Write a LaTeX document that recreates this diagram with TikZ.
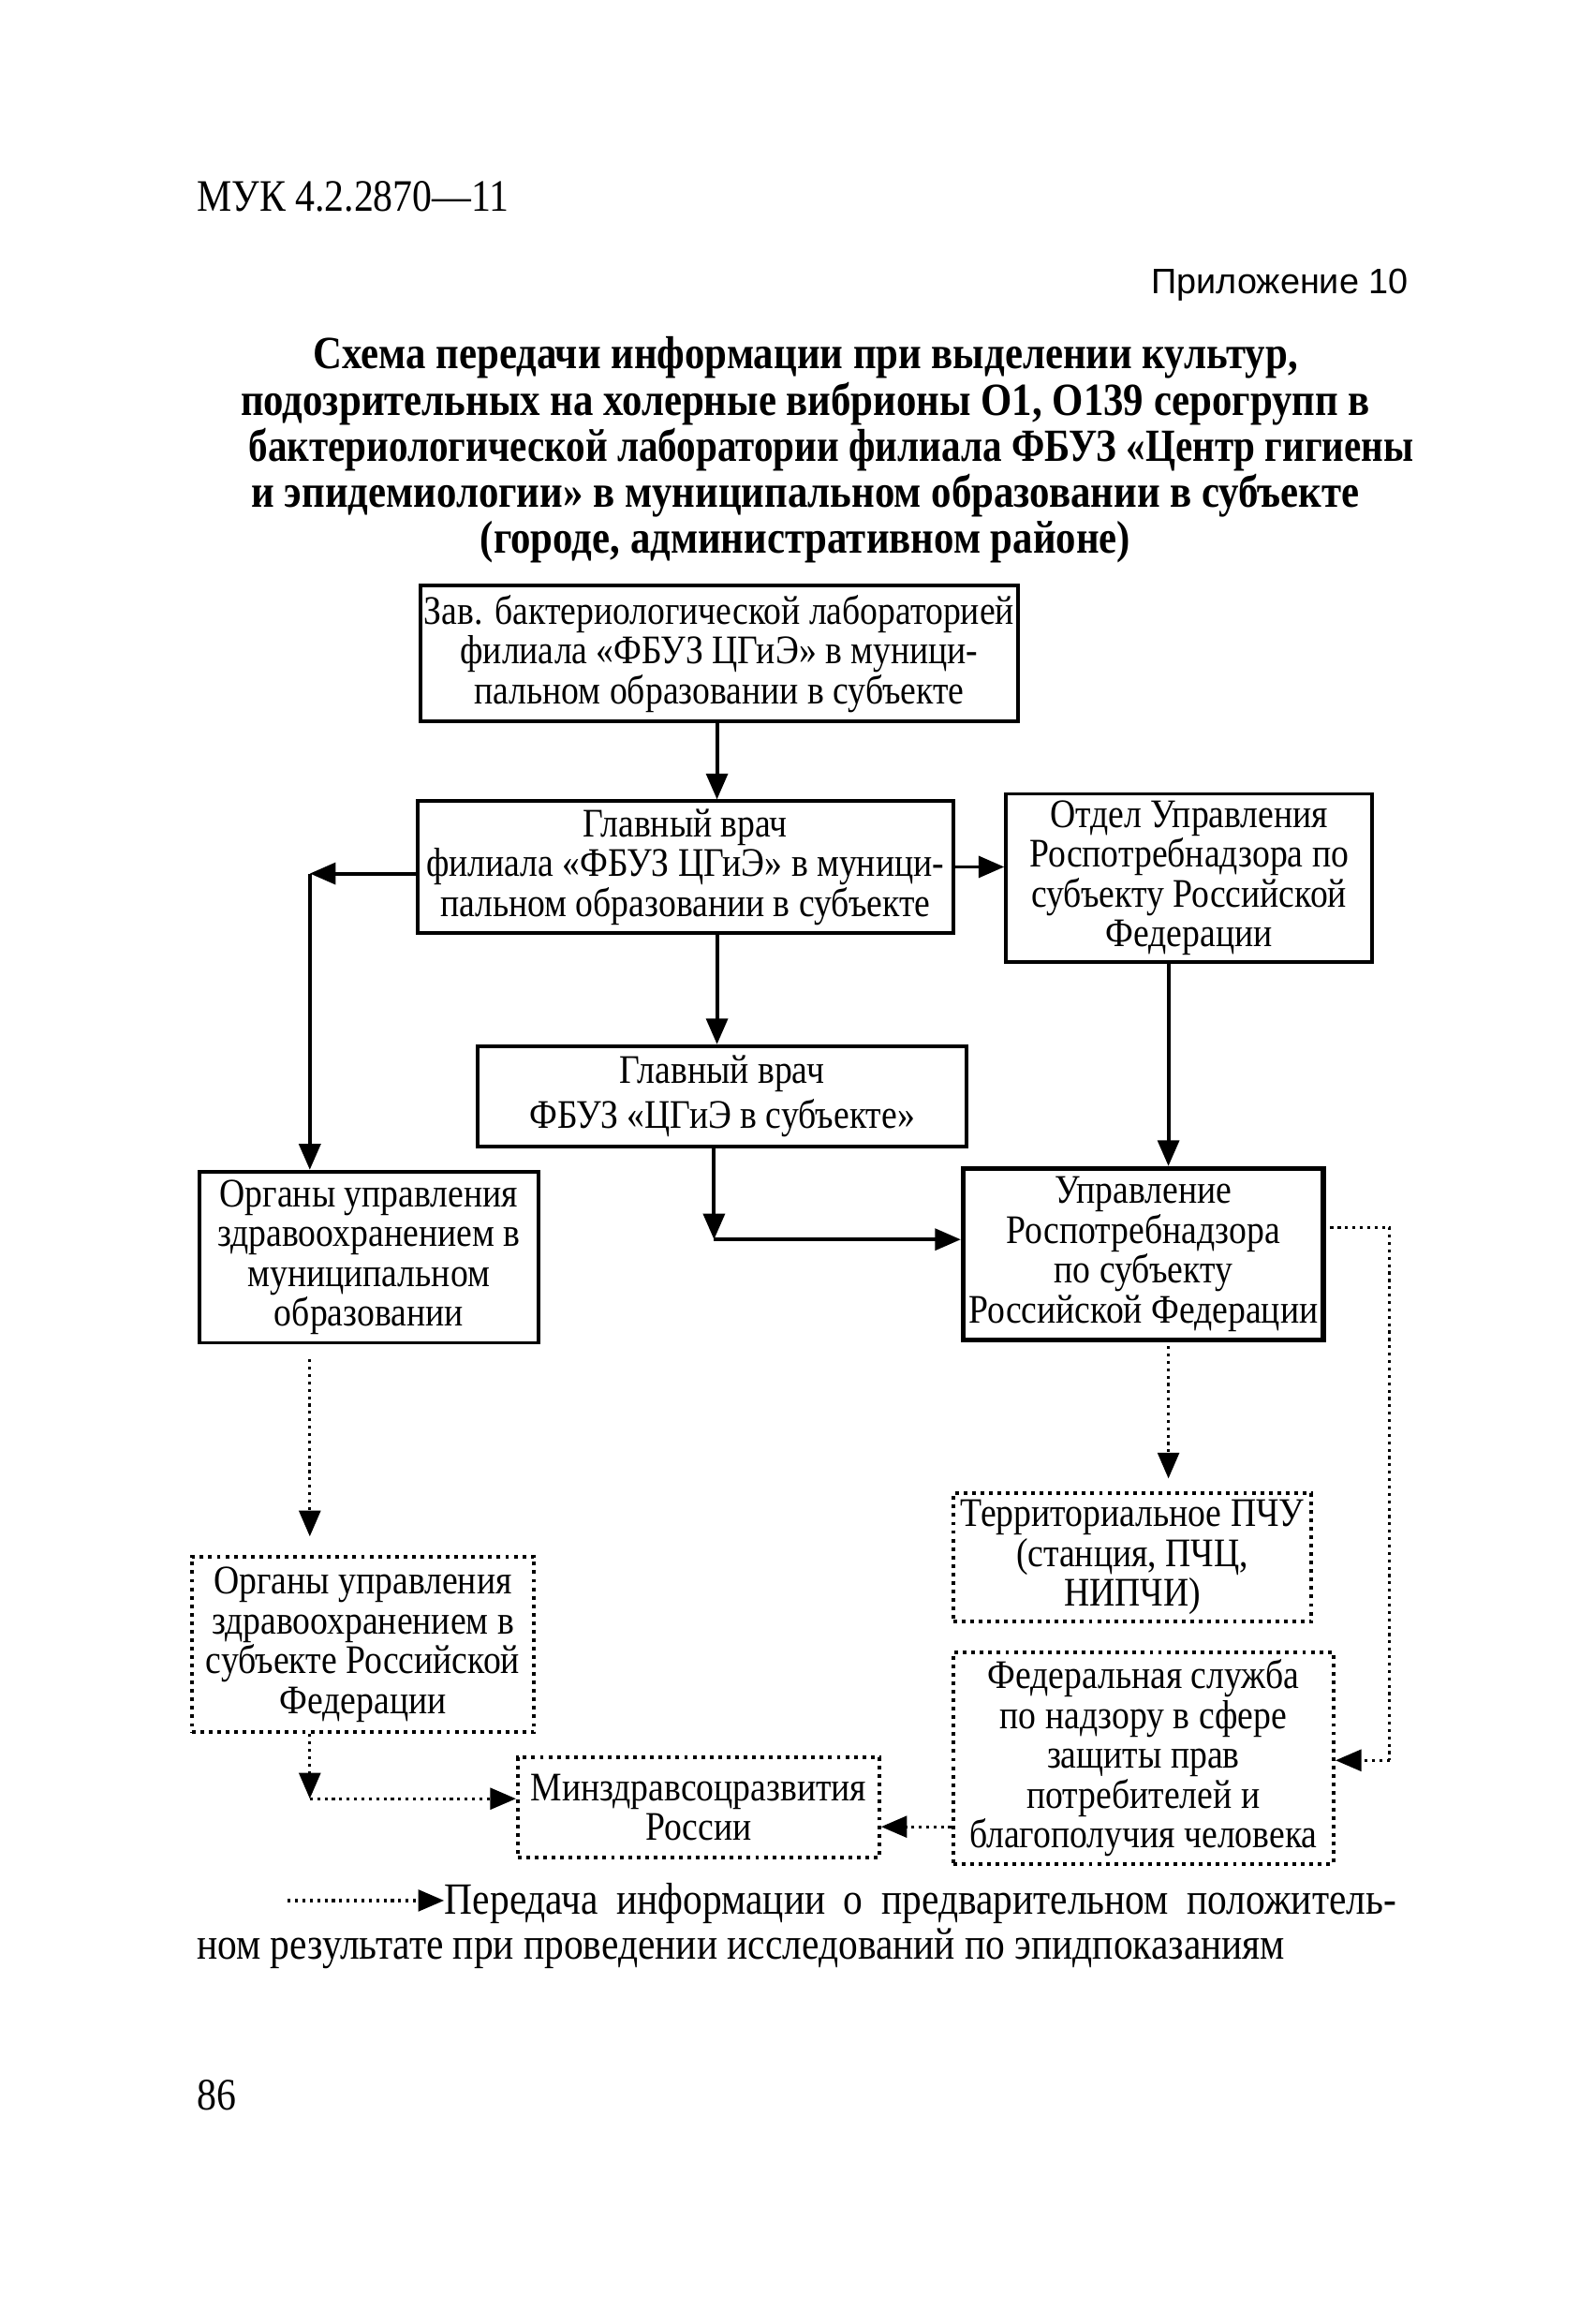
\documentclass[tikz,border=0pt]{standalone}
\usepackage{fontspec}
\setmainfont[FakeStretch=0.87]{Liberation Serif}
\newfontfamily\arialfont{Liberation Sans}
\usetikzlibrary{arrows.meta,calc}
\begin{document}
\begin{tikzpicture}[x=0.4pt,y=-0.4pt,
  box/.style={draw, line width=1pt, inner sep=0pt, align=center,
    font=\fontsize{11}{10.8}\selectfont},
  thickbox/.style={box, line width=1.4pt},
  dbox/.style={box, line width=1pt, dash pattern=on 1pt off 1.3pt},
  arr/.style={-{Triangle[length=7pt,width=5.8pt]}, line width=1pt},
  darr/.style={arr, line width=0.8pt, dash pattern=on 0.8pt off 1.2pt},
  dline/.style={line width=0.8pt, dash pattern=on 0.8pt off 1.2pt},
  txt/.style={inner sep=0pt, font=\fontsize{12.1}{12.8}\selectfont}]
\fill[white] (0,0) rectangle (1080,1575);
\useasboundingbox (0,0) rectangle (1080,1575);

% header
\node[txt, anchor=base west, font=\fontsize{12.2}{13}\selectfont] (muk) at (133,143) {МУК 4.2.2870—11};
\node[txt, anchor=base east, font=\arialfont\fontsize{9.6}{12}\selectfont] (pril) at (955,199) {Приложение 10};
\node[txt, align=center, font=\bfseries\fontsize{12.5}{12.5}\selectfont] (title) at (546,305)
 {Схема передачи информации при выделении культур,\\
  подозрительных на холерные вибрионы О1, О139 серогрупп в\\
  \hspace*{14pt}\scalebox{0.96}[1]{бактериологической лаборатории филиала ФБУЗ «Центр гигиены}\\
  и эпидемиологии» в муниципальном образовании в субъекте\\
  (городе, административном районе)};

% boxes
\node[box, minimum width=405*0.4pt, minimum height=92*0.4pt] (b1) at (487.5,443)
 {Зав. бактериологической лабораторией\\филиала «ФБУЗ ЦГиЭ» в муници-\\пальном образовании в субъекте};
\node[box, minimum width=363*0.4pt, minimum height=89*0.4pt] (b2) at (464.5,587.5)
 {Главный врач\\филиала «ФБУЗ ЦГиЭ» в муници-\\пальном образовании в субъекте};
\node[box, minimum width=248*0.4pt, minimum height=114*0.4pt] (b3) at (806,595)
 {Отдел Управления\\Роспотребнадзора по\\субъекту Российской\\Федерации};
\node[box, minimum width=331*0.4pt, minimum height=68*0.4pt] (b4) at (489.5,743)
 {Главный врач\\[1.6pt]ФБУЗ «ЦГиЭ в субъекте»};
\node[box, minimum width=230*0.4pt, minimum height=116*0.4pt] (b5) at (250,852)
 {Органы управления\\здравоохранением в\\муниципальном\\образовании};
\node[thickbox, minimum width=244*0.4pt, minimum height=116*0.4pt] (b6) at (775,850)
 {Управление\\Роспотребнадзора\\по субъекту\\Российской Федерации};
\node[dbox, minimum width=243*0.4pt, minimum height=87*0.4pt] (b7) at (767.5,1055.5)
 {Территориальное ПЧУ\\(станция, ПЧЦ,\\НИПЧИ)};
\node[dbox, minimum width=232*0.4pt, minimum height=119*0.4pt] (b8) at (246,1114.5)
 {Органы управления\\здравоохранением в\\субъекте Российской\\Федерации};
\node[dbox, minimum width=258*0.4pt, minimum height=143*0.4pt] (b9) at (775,1191.5)
 {Федеральная служба\\по надзору в сфере\\защиты прав\\потребителей и\\благополучия человека};
\node[dbox, minimum width=245*0.4pt, minimum height=68*0.4pt] (b10) at (473.5,1225)
 {Минздравсоцразвития\\России};

% helper coordinates
\coordinate (kx) at (486,0);
\coordinate (k1) at (210,592);
\coordinate (k3) at (792,0);
\coordinate (k4) at (484,840);
\coordinate (k5) at (942,832);
\coordinate (k6) at (942,1193);
\coordinate (k7) at (210,1219);

% solid connectors
\draw[arr] (b1.south -| kx) -- (b2.north -| kx);
\draw[arr] (b2.west |- k1) -- (k1);
\draw[arr] (k1) -- (k1 |- b5.north);
\draw[arr] (b2.east) -- (b2.east -| b3.west);
\draw[arr] (b2.south -| kx) -- (b4.north -| kx);
\draw[arr] (b3.south -| k3) -- (b6.north -| k3);
\draw[arr] (b4.south -| k4) -- (k4);
\draw[arr] (k4) -- (k4 -| b6.west);

% dotted connectors
\draw[darr, shorten <=4pt, shorten >=5pt] (b5.south -| k1) -- (b8.north -| k1);
\draw[darr, shorten <=1pt, shorten >=3.5pt] (b6.south -| k3) -- (b7.north -| k3);
\draw[dline] ($(b6.east |- k5)+(3,0)$) -- (k5) -- (k6);
\draw[darr] (k6) -- (k6 -| b9.east);
\draw[darr] (b8.south -| k7) -- (k7);
\draw[darr] (k7) -- (k7 -| b10.west);
\draw[darr] (b9.west |- 0,1238) -- (b10.east |- 0,1238);

% legend
\node[txt, anchor=base west] (leg1) at (301,1297)
 {\makebox[258pt][s]{Передача информации о предварительном положитель-}};
\node[txt, anchor=base west] (leg2) at (133,1328)
 {ном результате при проведении исследований по эпидпоказаниям};
\coordinate (l0) at (195,1288);
\draw[darr] (l0) -- (l0 -| leg1.west);

\node[txt, anchor=base west, font=\fontsize{12.2}{13}\selectfont] (pg) at (133,1430) {86};
\end{tikzpicture}
\end{document}
